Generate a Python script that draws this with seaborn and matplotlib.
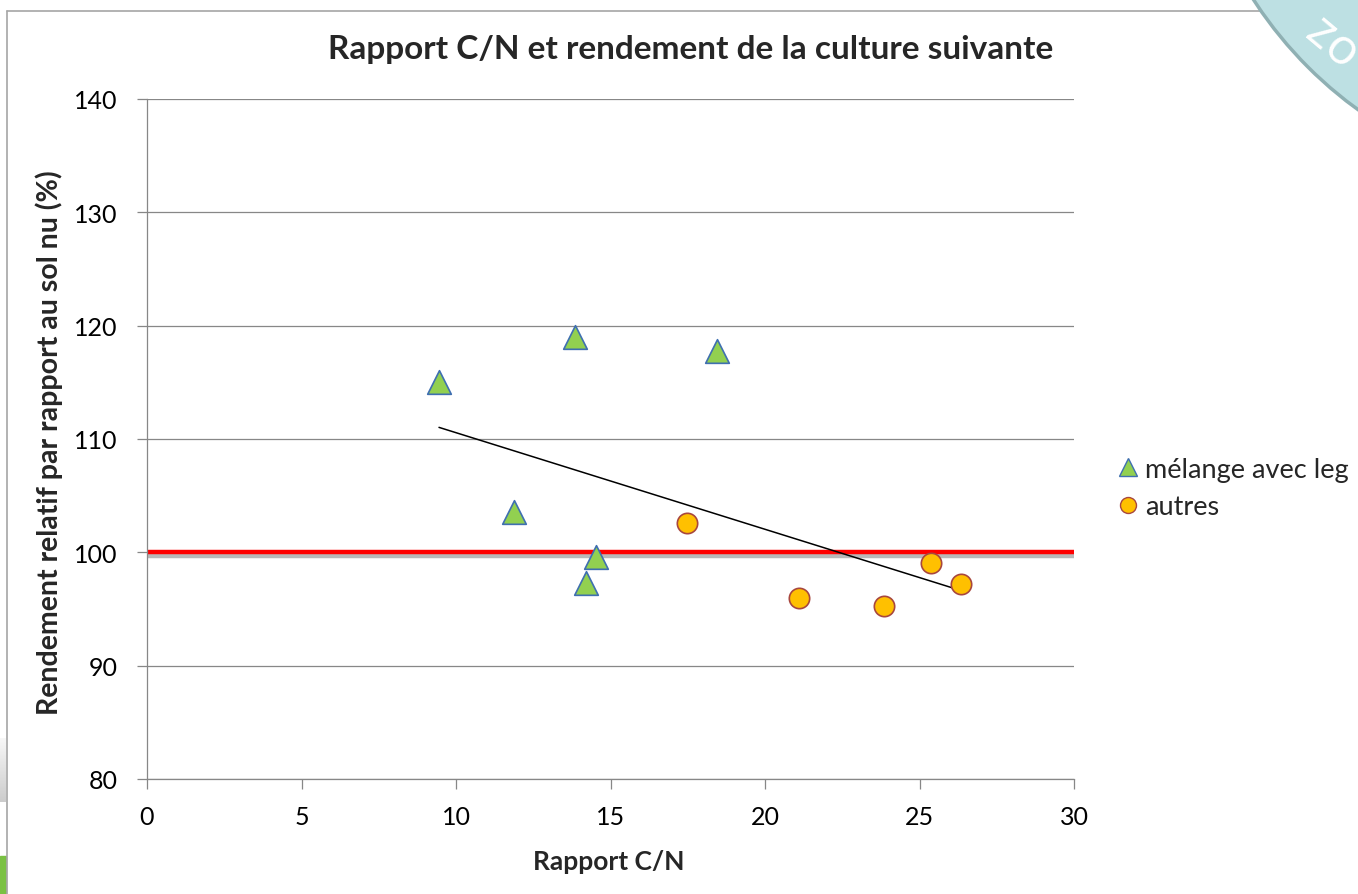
import numpy as np
import pandas as pd
import seaborn as sns
import matplotlib.pyplot as plt
import matplotlib.patches as mpatches
import matplotlib.patheffects as pe
from matplotlib.lines import Line2D

# valeurs
cn_leg = [9.45, 13.85, 18.45, 11.88, 14.53, 14.2]
rdt_leg = [115.0, 119.0, 117.8, 103.6, 99.55, 97.3]
cn_autres = [17.49, 21.1, 23.86, 25.38, 26.35]
rdt_autres = [102.56, 95.97, 95.26, 99.09, 97.24]
labels = ["mélange avec leg", "autres"]
x_ticks = [0, 5, 10, 15, 20, 25, 30]
y_ticks = [80, 90, 100, 110, 120, 130, 140]
ref_level = 100

df = pd.DataFrame({
    "cn": cn_leg + cn_autres,
    "rdt": rdt_leg + rdt_autres,
    "groupe": [labels[0]] * len(cn_leg) + [labels[1]] * len(cn_autres),
})

sns.set_theme(style="white")
plt.rcParams['font.family'] = ['Lato', 'DejaVu Sans']

W, H = 1358, 895
fig = plt.figure(figsize=(W / 100, H / 100), dpi=100)
ax = fig.add_axes([147 / W, 1 - 780 / H, (1074 - 147) / W, (780 - 100) / H])

grey = "#878787"
ax.set_xlim(0, 30)
ax.set_ylim(80, 140)
ax.set_xticks(x_ticks)
ax.set_yticks(y_ticks)
ax.yaxis.grid(True, color=grey, lw=0.9)
ax.set_axisbelow(True)
for s in ["top", "right"]:
    ax.spines[s].set_visible(False)
for s in ["left", "bottom"]:
    ax.spines[s].set_color(grey)
    ax.spines[s].set_linewidth(0.9)
ax.tick_params(axis="both", direction="out", length=7, width=0.9, color=grey,
               labelsize=18, labelcolor="black", left=True, bottom=True)
ax.tick_params(axis="x", pad=12)
ax.tick_params(axis="y", pad=14)

# ligne de référence à 100 %
ax.axhline(ref_level, color="#ff0000", lw=3.2, zorder=2,
           path_effects=[pe.SimpleLineShadow(offset=(0, -2.5), shadow_color="#808080", alpha=0.55),
                         pe.Normal()])

# courbe de tendance linéaire sur tous les points
sns.regplot(data=df, x="cn", y="rdt", ax=ax, scatter=False, ci=None, truncate=True,
            line_kws={"color": "black", "lw": 1.1, "zorder": 3})

sns.scatterplot(data=df[df.groupe == labels[0]], x="cn", y="rdt", ax=ax, marker="^", s=290,
                color="#92d050", edgecolor="#3f6fb0", linewidth=1.2, zorder=4, legend=False)
sns.scatterplot(data=df[df.groupe == labels[1]], x="cn", y="rdt", ax=ax, marker="o", s=215,
                color="#ffc000", edgecolor="#a8473e", linewidth=1.2, zorder=4, legend=False)

ax.set_xlabel("")
ax.set_ylabel("")
fig.text(609 / W, 1 - 862 / H, "Rapport C/N", ha="center", va="center",
         fontsize=19, fontweight="bold")
fig.text(49 / W, 1 - 443 / H, "Rendement relatif par rapport au sol nu (%)", ha="center",
         va="center", rotation=90, fontsize=20.5, fontweight="bold")
fig.text(691 / W, 1 - 49 / H, "Rapport C/N et rendement de la culture suivante",
         ha="center", va="center", fontsize=24, fontweight="bold")

handles = [
    Line2D([], [], ls="", marker="^", ms=13, mfc="#92d050", mec="#3f6fb0", mew=1.0),
    Line2D([], [], ls="", marker="o", ms=11.5, mfc="#ffc000", mec="#a8473e", mew=1.0),
]
fig.legend(handles, labels, loc="center left", bbox_to_anchor=(1114 / W, 1 - 489 / H),
           frameon=False, fontsize=19.5, handletextpad=0.15, labelspacing=0.45,
           handlelength=1.0, borderaxespad=0, borderpad=0)

# cadre et décor de la diapositive
fig.add_artist(Line2D([7 / W, 1], [1 - 12 / H, 1 - 12 / H], color="#a6a6a6", lw=1.2,
                      transform=fig.transFigure))
fig.add_artist(Line2D([7 / W, 7 / W], [0, 1 - 12 / H], color="#a6a6a6", lw=1.2,
                      transform=fig.transFigure))
grad = np.linspace(0.97, 0.8, 64).reshape(-1, 1)
fig.figimage(np.repeat(np.repeat(grad, 6, axis=1)[:, :, None], 3, axis=2),
             xo=0, yo=H - 803, origin="upper", zorder=1)
fig.add_artist(mpatches.Rectangle((0, 0), 6 / W, 38 / H, color="#7ac143",
                                  transform=fig.transFigure))
fig.add_artist(mpatches.Ellipse((1600 / W, 1 + 224 / H), 2 * 413 / W, 2 * 413 / H,
                                facecolor="#bde0e3", edgecolor="#8fb0b3", lw=2.5,
                                transform=fig.transFigure, zorder=10))
fig.text(1332 / W, 1 - 44 / H, "zo", color="white", fontsize=36, rotation=-40,
         ha="center", va="center", zorder=11, family=["Open Sans", "DejaVu Sans"])

fig.savefig("out.png", dpi=100, facecolor="white")
